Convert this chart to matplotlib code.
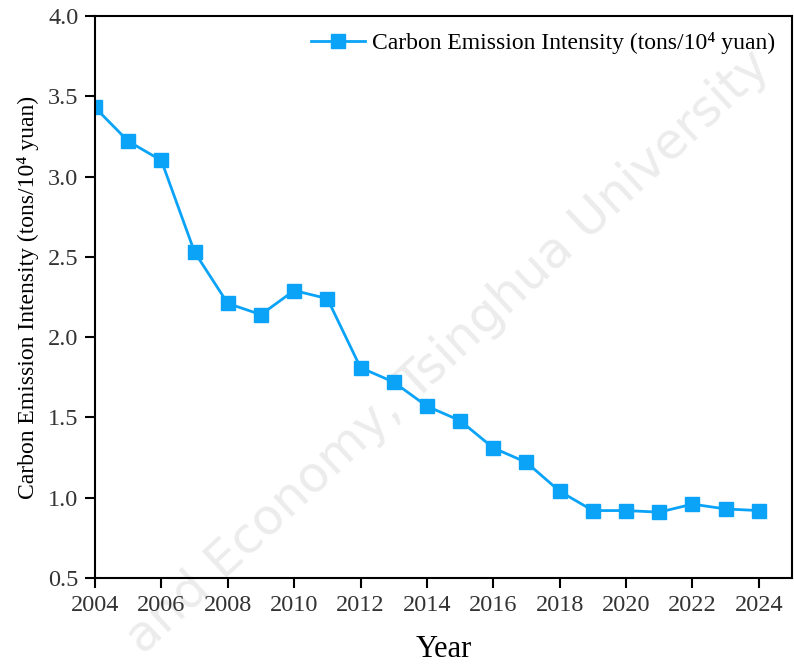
import matplotlib
matplotlib.use('Agg')
import matplotlib.pyplot as plt

years = list(range(2004, 2025))
intensity = [3.43, 3.22, 3.10, 2.53, 2.21, 2.14, 2.29, 2.24, 1.81, 1.72, 1.57,
             1.48, 1.31, 1.22, 1.04, 0.92, 0.92, 0.91, 0.96, 0.93, 0.92]
xticks = list(range(2004, 2025, 2))
yticks = [0.5, 1.0, 1.5, 2.0, 2.5, 3.0, 3.5, 4.0]

plt.rcParams['font.family'] = ['Liberation Serif', 'DejaVu Serif']

fig = plt.figure(figsize=(7.94, 6.64), dpi=100)
ax = fig.add_axes([0.1196, 0.1295, 0.8779, 0.8465])
ax.set_zorder(2)
ax.patch.set_alpha(0)

ax.plot(years, intensity, color='#0aa3f7', lw=2, marker='s', ms=9.5,
        label='Carbon Emission Intensity (tons/10\u2074 yuan)')

ax.set_xlim(2004, 2025)
ax.set_ylim(0.5, 4.0)
ax.set_xticks(xticks)
ax.set_yticks(yticks)
ax.set_yticklabels([f'{v:.1f}' for v in yticks])
ax.tick_params(labelsize=17.5, direction='out', length=7, width=1.5, colors='black', pad=5)
for lab in ax.get_xticklabels() + ax.get_yticklabels():
    lab.set_color('#333333')
for s in ax.spines.values():
    s.set_linewidth(1.5)

ax.set_xlabel('Year', fontsize=22, labelpad=14)
ax.set_ylabel('Carbon Emission Intensity (tons/10\u2074 yuan)', fontsize=17, labelpad=6)
ax.legend(loc='upper right', frameon=False, fontsize=17, handlelength=2.3,
          handletextpad=0.3, borderaxespad=0.3)

# faint watermark behind the axes
fig.text(0.18, 0.012, 'and Economy, Tsinghua University', fontsize=36,
         family='DejaVu Sans', color='#ececec', rotation=43,
         rotation_mode='anchor', ha='left', va='baseline', zorder=0)

fig.savefig('out.png', dpi=100)
